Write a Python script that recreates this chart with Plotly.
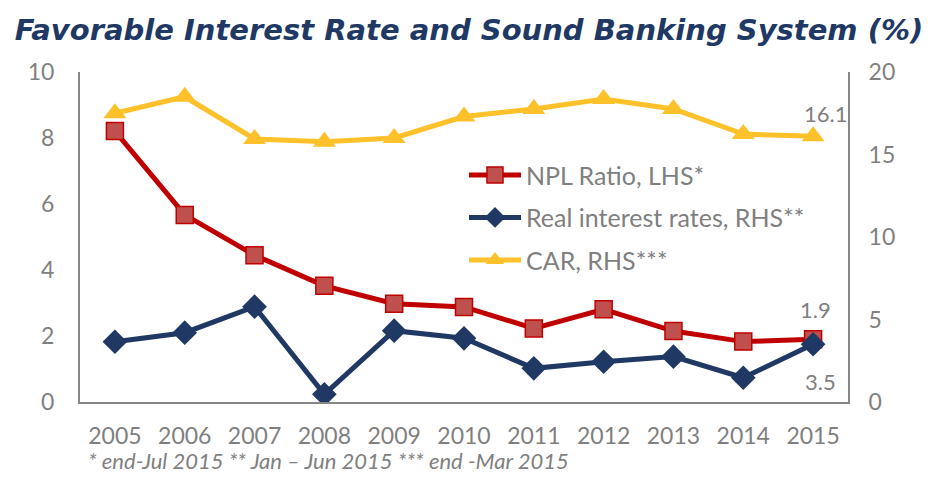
import plotly.graph_objects as go

# Annual series, 2005-2015
years = ["2005", "2006", "2007", "2008", "2009", "2010", "2011", "2012", "2013", "2014", "2015"]
npl_ratio = [8.21, 5.67, 4.45, 3.52, 2.98, 2.88, 2.23, 2.81, 2.15, 1.83, 1.9]        # left axis
real_rates = [3.65, 4.2, 5.78, 0.47, 4.32, 3.86, 2.04, 2.44, 2.75, 1.47, 3.5]        # right axis
car = [17.5, 18.5, 15.94, 15.78, 16.0, 17.3, 17.76, 18.36, 17.76, 16.24, 16.1]      # right axis

left_ticks = [0, 2, 4, 6, 8, 10]
right_ticks = [0, 5, 10, 15, 20]

GRAY = "#7f7f7f"
AXIS = "#868686"
FONT = "Lato"

fig = go.Figure()

fig.add_trace(go.Scatter(
    x=years, y=npl_ratio, name="NPL Ratio, LHS*", legendgroup="a",
    mode="lines+markers",
    line=dict(color="#c00000", width=5),
    marker=dict(symbol="square", size=17, color="#c0504d", line=dict(color="#c00000", width=1.5)),
    yaxis="y",
))
fig.add_trace(go.Scatter(
    x=years, y=real_rates, name="Real interest rates, RHS**", legendgroup="b",
    mode="lines+markers",
    line=dict(color="#203864", width=5),
    marker=dict(symbol="diamond", size=19, color="#203864"),
    yaxis="y2",
))
fig.add_trace(go.Scatter(
    x=years, y=car, name="CAR, RHS***", legendgroup="c",
    mode="lines+markers",
    line=dict(color="#ffc129", width=5),
    marker=dict(symbol="triangle-up", size=20, color="#ffc129"),
    yaxis="y2",
))

# Value labels for the latest year (category index of the last year)
last_idx = len(years) - 1
label_font = dict(family=FONT, size=22, color=GRAY)
fig.add_annotation(x=last_idx, y=car[-1], yref="y2", text=f"{car[-1]:.1f}", showarrow=False,
                   xshift=12, yshift=23, font=label_font)
fig.add_annotation(x=last_idx, y=npl_ratio[-1], yref="y", text=f"{npl_ratio[-1]:.1f}", showarrow=False,
                   xshift=2, yshift=30, font=label_font)
fig.add_annotation(x=last_idx, y=real_rates[-1], yref="y2", text=f"{real_rates[-1]:.1f}", showarrow=False,
                   xshift=7, yshift=-37, font=label_font)

# Footnote
fig.add_annotation(xref="paper", yref="paper", x=0.008, y=-0.224, xanchor="left", yanchor="bottom",
                   text="* end-Jul 2015 ** Jan \u2013 Jun 2015 *** end -Mar 2015", showarrow=False,
                   font=dict(family=FONT, size=22, color=GRAY, style="italic"))

fig.update_layout(
    width=938, height=478,
    margin=dict(l=80, r=90, t=72, b=76),
    paper_bgcolor="white", plot_bgcolor="white",
    title=dict(text="Favorable Interest Rate and Sound Banking System (%)",
               x=0.5, xanchor="center", y=0.937, yanchor="middle",
               font=dict(family="DejaVu Sans", size=29, color="#203864", weight="bold", style="italic")),
    showlegend=True,
    legend=dict(x=0.5, y=0.757, xanchor="left", yanchor="top",
                bgcolor="rgba(0,0,0,0)", tracegroupgap=7, itemwidth=52,
                font=dict(family=FONT, size=25, color=GRAY)),
    xaxis=dict(type="category", range=[-0.5, 10.5], showgrid=False, zeroline=False,
               showline=True, linecolor=AXIS, linewidth=2, ticks="", ticklabelstandoff=12,
               tickfont=dict(family=FONT, size=23, color=GRAY)),
    yaxis=dict(range=[0, 10], tickvals=left_ticks, showgrid=False, zeroline=False,
               showline=True, linecolor=AXIS, linewidth=2, ticks="", ticklabelstandoff=19,
               tickfont=dict(family=FONT, size=23, color=GRAY)),
    yaxis2=dict(range=[0, 20], tickvals=right_ticks, overlaying="y", side="right",
                showgrid=False, zeroline=False, showline=True, linecolor=AXIS, linewidth=2,
                ticks="", ticklabelstandoff=14,
                tickfont=dict(family=FONT, size=23, color=GRAY)),
)

fig.write_html("out.html")
